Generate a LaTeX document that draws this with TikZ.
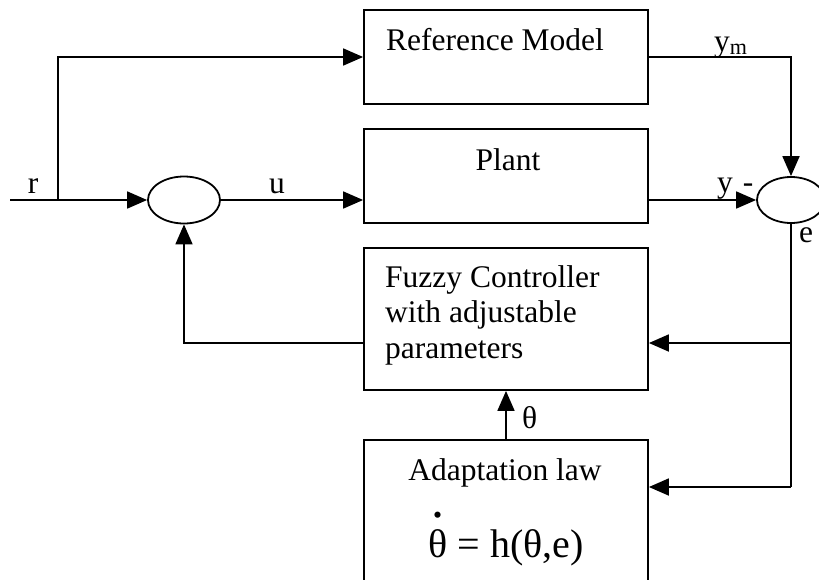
\documentclass[tikz,border=0pt]{standalone}
\usepackage{fontspec}
\setmainfont{Liberation Serif}
\usetikzlibrary{shapes.geometric,arrows.meta}
\newcommand{\thetadot}{{\ooalign{θ\cr\hidewidth\smash{\raisebox{0.98em}{\fontsize{52}{52}\selectfont.}}\hidewidth\cr}}}
\begin{document}
\begin{tikzpicture}[x=1pt,y=-1pt,
  font=\fontsize{31.5}{36}\selectfont,
  wire/.style={line width=1.8pt},
  arr/.style={wire,-{Triangle[length=20pt,width=17pt]}},
  blockbox/.style={draw,line width=1.8pt,minimum width=284pt,inner sep=0pt},
  sumnode/.style={draw,ellipse,line width=1.8pt,inner sep=0pt},
  txt/.style={inner sep=0pt}]
\useasboundingbox (0,0) rectangle (819,579);
% blocks
\node[blockbox,minimum height=94pt] (ref) at (506,57) {};
\node[blockbox,minimum height=94pt] (plant) at (506,176) {};
\node[blockbox,minimum height=142pt] (fuzzy) at (506,319) {};
\node[blockbox,minimum height=170pt] (adapt) at (506,525) {};
% block texts
\node[txt,anchor=base] (reftxt) at (495,50) {Reference Model};
\node[txt,anchor=base] (planttxt) at (508,170) {Plant};
\node[txt,anchor=base west] (fz1) at (385,287) {Fuzzy Controller};
\node[txt,anchor=base west] (fz2) at (385,322) {with adjustable};
\node[txt,anchor=base west] (fz3) at (385,358) {parameters};
\node[txt,anchor=base] (ad1) at (505,480) {Adaptation law};
\node[txt,anchor=base,font=\fontsize{40}{44}\selectfont] (ad2) at (506,557) {\thetadot{} = h(θ,e)};
% summing junctions
\node[sumnode,minimum width=72pt,minimum height=47pt] (s1) at (184,200) {};
\node[sumnode,minimum width=68pt,minimum height=46pt] (s2) at (791,200) {};
% coordinates
\coordinate (rin) at (10,200);
\coordinate (rbr) at (58,200);
\coordinate (e1) at (791,343);
\coordinate (e2) at (791,487);
\coordinate (fb) at (364,343);
% connectors
\draw[arr] (rin) -- (s1.west);
\draw[arr] (rbr) |- (ref.west);
\draw[arr] (s1.east) -- (s1.east -| plant.west);
\draw[arr] (ref.east) -| (s2.north);
\draw[arr] (s2.west -| plant.east) -- (s2.west);
\draw[wire] (s2.south) -- (e2);
\draw[arr] (e1) -- (e1 -| fuzzy.east);
\draw[arr] (e2) -- (e2 -| adapt.east);
\draw[arr] (fb) -| (s1.south);
\draw[arr] (adapt.north) -- (fuzzy.south);
% signal labels
\node[txt,anchor=base] (lr) at (33,193) {r};
\node[txt,anchor=base] (lu) at (277,193) {u};
\node[txt,anchor=base west] (lym) at (714,51) {y\textsubscript{m}};
\node[txt,anchor=base] (ly) at (725,192) {y};
\node[txt,anchor=base] (lminus) at (748,192) {-};
\node[txt,anchor=base] (le) at (806,242) {e};
\node[txt,anchor=base west] (lth) at (522,428) {θ};
\end{tikzpicture}
\end{document}
